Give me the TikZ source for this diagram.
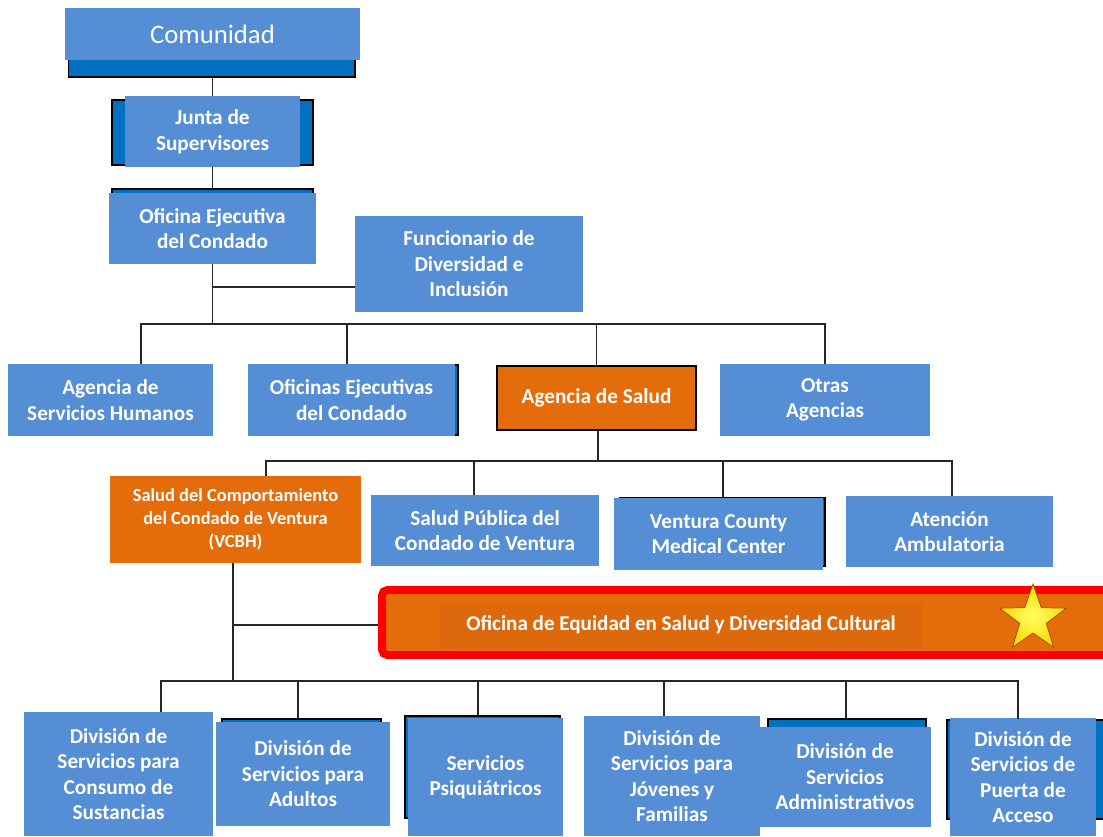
\documentclass[tikz,border=0pt]{standalone}
\usepackage{fontspec}
\setmainfont{Carlito}
\usepackage{tikz}
\usepackage{xcolor}
\usetikzlibrary{shapes.geometric}

\definecolor{ltblue}{RGB}{85,142,213}
\definecolor{dkblue}{RGB}{0,112,192}
\definecolor{orng}{RGB}{228,108,10}
\definecolor{orngdark}{RGB}{222,104,12}

\begin{document}
\begin{tikzpicture}[x=0.02cm, y=-0.02cm,
  box/.style={rectangle, fill=ltblue, text=white, align=center, inner sep=0pt,
    font=\fontsize{12.1pt}{14.5pt}\selectfont\bfseries},
  back/.style={rectangle, fill=dkblue, draw=black, line width=0.6pt, inner sep=0pt},
  obox/.style={box, fill=orng},
  link/.style={draw=black!85, line width=0.8pt}]
\useasboundingbox (0,0) rectangle (1103,836);

% top of the chart
\node[back, minimum width=5.74cm, minimum height=0.74cm] (comback) at (211.5,58.5) {};
\node[box, minimum width=5.9cm, minimum height=1.04cm, font=\fontsize{15.2pt}{17pt}\selectfont] (com) at (212.5,34) {Comunidad};
\node[back, minimum width=4.02cm, minimum height=1.3cm] (juntaback) at (212.5,132.5) {};
\node[box, minimum width=3.5cm, minimum height=1.42cm] (junta) at (212.5,131.5) {Junta de\\Supervisores};
\node[back, minimum width=4.02cm, minimum height=0.88cm] (ofiback) at (212.5,211) {};
\node[box, minimum width=4.14cm, minimum height=1.42cm] (ofi) at (212.5,228.5) {Oficina Ejecutiva\\del Condado};
\node[box, minimum width=4.56cm, minimum height=1.92cm] (func) at (469,264) {Funcionario de\\Diversidad e\\Inclusión};

% agencies
\node[box, minimum width=4.1cm, minimum height=1.44cm] (ash) at (110.5,400) {Agencia de\\Servicios Humanos};
\node[back, minimum width=4.16cm, minimum height=1.4cm] (oecback) at (354,400) {};
\node[box, minimum width=4.14cm, minimum height=1.44cm] (oec) at (351.5,400) {Oficinas Ejecutivas\\del Condado};
\node[obox, draw=black, line width=0.6pt, minimum width=3.98cm, minimum height=1.28cm] (asalud) at (596.5,398) {Agencia de Salud};
\node[box, minimum width=4.2cm, minimum height=1.44cm] (otras) at (825,400) {Otras\\Agencias};

% health agency
\node[obox, minimum width=5.02cm, minimum height=1.74cm, font=\fontsize{10.5pt}{13pt}\selectfont\bfseries] (vcbh) at (235.5,519.5) {Salud del Comportamiento\\del Condado de Ventura\\(VCBH)};
\node[box, minimum width=4.56cm, minimum height=1.42cm] (spub) at (485,530.5) {Salud Pública del\\Condado de Ventura};
\node[back, minimum width=4.1cm, minimum height=1.36cm] (vcmcback) at (722.5,532) {};
\node[box, minimum width=4.18cm, minimum height=1.44cm] (vcmc) at (718.5,534) {Ventura County\\Medical Center};
\node[box, minimum width=4.14cm, minimum height=1.42cm] (aten) at (949.5,531.5) {Atención\\Ambulatoria};

% office
\node[rectangle, fill=orng, draw=red, line width=4.5pt, rounded corners=3pt, minimum width=14.66cm, minimum height=1.3cm] (oesdc) at (748.5,622.5) {};
\node[obox, fill=orngdark, minimum width=9.64cm, minimum height=0.92cm, font=\fontsize{12pt}{14pt}\selectfont\bfseries] (oesdctxt) at (681,625) {Oficina de Equidad en Salud y Diversidad Cultural};
\node[star, star points=5, star point ratio=2.5, minimum size=1.4cm, inner sep=0pt, draw=orange!60!black, line width=0.4pt, shading=radial, inner color=yellow!60, outer color=yellow!70!orange] (estrella) at (1033,619) {};

% divisions
\node[box, minimum width=3.8cm, minimum height=2.48cm] (cons) at (118.5,774) {División de\\Servicios para\\Consumo de\\Sustancias};
\node[back, minimum width=3.18cm, minimum height=1.72cm] (adultback) at (301.5,762) {};
\node[box, minimum width=3.48cm, minimum height=2.08cm] (adult) at (303,774) {División de\\Servicios para\\Adultos};
\node[back, minimum width=3.1cm, minimum height=2.04cm] (psiqback) at (482.5,767) {};
\node[box, minimum width=3.1cm, minimum height=2.36cm] (psiq) at (485.5,777) {Servicios\\Psiquiátricos};
\node[box, minimum width=3.52cm, minimum height=2.4cm] (jov) at (672,776) {División de\\Servicios para\\Jóvenes y\\Familias};
\node[back, minimum width=3.16cm, minimum height=1.72cm] (adminback) at (847,762) {};
\node[box, minimum width=3.44cm, minimum height=2.0cm] (admin) at (845,777) {División de\\Servicios\\Administrativos};
\node[back, minimum width=3.26cm, minimum height=1.98cm] (puertaback) at (1028.5,769.5) {};
\node[box, minimum width=2.92cm, minimum height=2.36cm] (puerta) at (1023,777) {División de\\Servicios de\\Puerta de\\Acceso};

% bus points
\coordinate (busa) at (212.5,324);
\coordinate (funcj) at (212.5,287);
\coordinate (ashj) at (141,324);
\coordinate (oecj) at (347,324);
\coordinate (busb) at (598,461);
\coordinate (vcbhj) at (266,461);
\coordinate (spubj) at (474,461);
\coordinate (vcmcj) at (723,461);
\coordinate (atenj) at (952,461);
\coordinate (trunk) at (233,681);
\coordinate (oesdcj) at (233,625);
\coordinate (consj) at (161,681);
\coordinate (adultj) at (298,681);
\coordinate (psiqj) at (478,681);
\coordinate (jovj) at (664,681);
\coordinate (adminj) at (846,681);
\coordinate (puertaj) at (1018,681);

\draw[link] (junta.north |- comback.south) -- (junta.north);
\draw[link] (junta.south) -- (junta.south |- ofiback.north);
\draw[link] (ofi.south) -- (busa);
\draw[link] (funcj) -- (funcj -| func.west);
\draw[link] (ashj |- ash.north) -- (ashj) -- (otras.north |- busa) -- (otras.north);
\draw[link] (oecj) -- (oecj |- oec.north);
\draw[link] (asalud.north |- busa) -- (asalud.north);
\draw[link] (busb |- asalud.south) -- (busb);
\draw[link] (vcbhj |- vcbh.north) -- (vcbhj) -- (atenj) -- (atenj |- aten.north);
\draw[link] (spubj) -- (spubj |- spub.north);
\draw[link] (vcmcj) -- (vcmcj |- vcmc.north);
\draw[link] (trunk |- vcbh.south) -- (trunk);
\draw[link] (oesdcj) -- (oesdcj -| oesdc.west);
\draw[link] (consj |- cons.north) -- (consj) -- (puertaj) -- (puertaj |- puertaback.north);
\draw[link] (adultj) -- (adultj |- adultback.north);
\draw[link] (psiqj) -- (psiqj |- psiqback.north);
\draw[link] (jovj) -- (jovj |- jov.north);
\draw[link] (adminj) -- (adminj |- adminback.north);
\end{tikzpicture}
\end{document}
